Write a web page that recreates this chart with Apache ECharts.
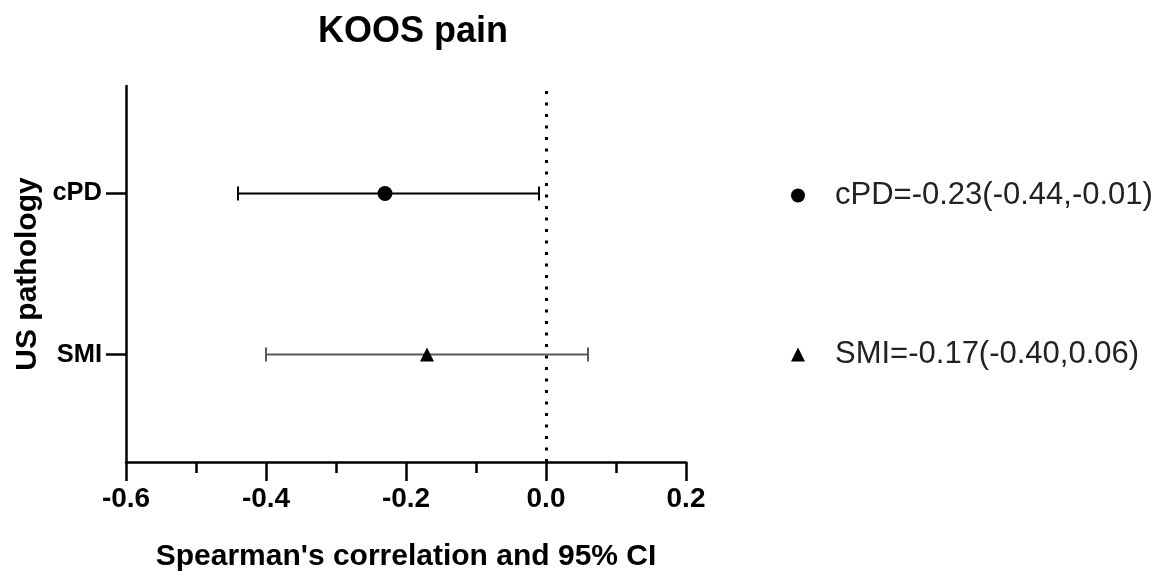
<!DOCTYPE html>
<html>
<head>
<meta charset="utf-8">
<script src="https://cdn.jsdelivr.net/npm/echarts@6/dist/echarts.min.js"></script>
<style>
  html, body { margin: 0; padding: 0; background: #fff; }
  #chart { width: 1168px; height: 578px; }
</style>
</head>
<body>
<div id="chart"></div>
<script>
// Spearman's correlation with 95% CI for each ultrasound pathology
const categories = ['SMI', 'cPD'];          // bottom to top
const categoryPos = [1, 2];                 // vertical slot on the value axis
const rho = [-0.17, -0.23];
const ciLow = [-0.40, -0.44];
const ciHigh = [0.06, -0.01];
const symbols = ['triangle', 'circle'];
const barColors = ['#5a5a5a', '#000000'];
const xTicks = [-0.6, -0.4, -0.2, 0.0, 0.2];

const FONT = '"Liberation Sans", Arial, Helvetica, sans-serif';

const fmt = v => v.toFixed(2);
const legendName = i =>
  categories[i] + '=' + fmt(rho[i]) + '(' + fmt(ciLow[i]) + ',' + fmt(ciHigh[i]) + ')';

const chart = echarts.init(document.getElementById('chart'), null, { renderer: 'canvas' });

// whisker lines with end caps
const errorSeries = categories.map((c, i) => ({
  type: 'custom',
  name: 'ci-' + c,
  silent: true,
  z: 2,
  data: [[categoryPos[i], ciLow[i], ciHigh[i]]],
  encode: { x: [1, 2], y: 0 },
  renderItem: (params, api) => {
    const y = api.value(0);
    const a = api.coord([api.value(1), y]);
    const b = api.coord([api.value(2), y]);
    const cap = 7;
    const style = { stroke: barColors[i], lineWidth: 2 };
    return {
      type: 'group',
      children: [
        { type: 'line', shape: { x1: a[0], y1: a[1], x2: b[0], y2: b[1] }, style },
        { type: 'line', shape: { x1: a[0], y1: a[1] - cap, x2: a[0], y2: a[1] + cap }, style },
        { type: 'line', shape: { x1: b[0], y1: b[1] - cap, x2: b[0], y2: b[1] + cap }, style }
      ]
    };
  }
}));

// point estimates
const pointSeries = categories.map((c, i) => ({
  type: 'scatter',
  name: legendName(i),
  symbol: symbols[i],
  symbolSize: i === 1 ? 15 : 14,
  z: 3,
  itemStyle: { color: '#000', opacity: 1 },
  data: [[rho[i], categoryPos[i]]]
}));

// dotted reference line at zero
pointSeries[0].markLine = {
  silent: true,
  symbol: 'none',
  label: { show: false },
  lineStyle: { color: '#000', width: 3, type: [3, 8.5] },
  data: [{ xAxis: 0 }]
};

const legendCommon = {
  orient: 'vertical',
  left: 786,
  itemWidth: 14,
  itemHeight: 14,
  selectedMode: false,
  textStyle: { fontFamily: FONT, fontSize: 31, color: '#222', lineHeight: 30, padding: [0, 0, 0, 25] }
};

chart.setOption({
  animation: false,
  backgroundColor: '#fff',
  title: {
    text: 'KOOS pain',
    left: 408,
    textAlign: 'center',
    top: 9,
    textStyle: { fontFamily: FONT, fontSize: 36, fontWeight: 'bold', color: '#000' }
  },
  legend: [
    Object.assign({}, legendCommon, { top: 175, data: [legendName(1)] }),
    Object.assign({}, legendCommon, { top: 334, data: [legendName(0)] })
  ],
  grid: { left: 126, right: 482, top: 86, bottom: 116, containLabel: false },
  xAxis: {
    type: 'value',
    min: xTicks[0],
    max: xTicks[xTicks.length - 1],
    interval: 0.2,
    name: "Spearman's correlation and 95% CI",
    nameLocation: 'middle',
    nameGap: 80,
    nameTextStyle: { fontFamily: FONT, fontSize: 30, fontWeight: 'bold', color: '#000' },
    axisLine: { show: true, onZero: false, lineStyle: { color: '#000', width: 2.5 } },
    axisTick: { show: true, length: 19, lineStyle: { color: '#000', width: 2.5 } },
    minorTick: { show: true, splitNumber: 2, length: 11, lineStyle: { color: '#000', width: 2.5 } },
    splitLine: { show: false },
    axisLabel: {
      margin: 23,
      fontFamily: FONT, fontSize: 28, fontWeight: 'bold', color: '#000',
      formatter: v => (Math.abs(v) < 1e-9 ? 0 : v).toFixed(1)
    }
  },
  yAxis: {
    type: 'value',
    min: 1 / 3,
    max: 8 / 3,
    name: 'US pathology',
    nameLocation: 'middle',
    nameGap: 83,
    nameTextStyle: { fontFamily: FONT, fontSize: 30, fontWeight: 'bold', color: '#000' },
    axisLine: { show: true, onZero: false, lineStyle: { color: '#000', width: 2.5 } },
    axisTick: { show: true, length: 20, customValues: categoryPos, lineStyle: { color: '#000', width: 2.5 } },
    splitLine: { show: false },
    axisLabel: {
      margin: 24,
      customValues: categoryPos,
      fontFamily: FONT, fontSize: 25.5, fontWeight: 'bold', color: '#000',
      formatter: v => categories[categoryPos.indexOf(Math.round(v))] || ''
    }
  },
  series: errorSeries.concat(pointSeries)
});
</script>
</body>
</html>
